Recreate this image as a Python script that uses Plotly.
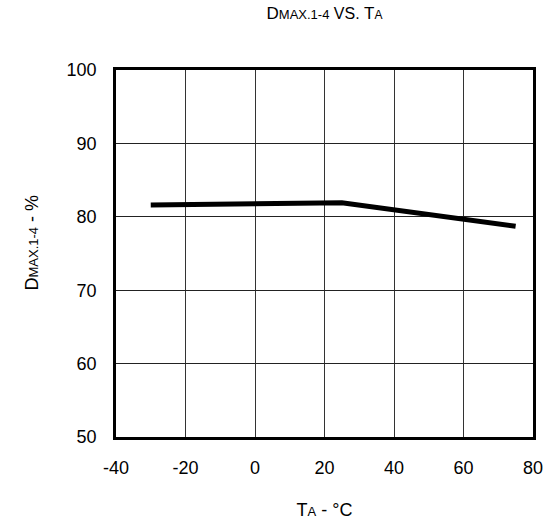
import plotly.graph_objects as go

temp_c = [-30, 25, 75]
dmax_pct = [81.6, 81.9, 78.7]
x_ticks = [-40, -20, 0, 20, 40, 60, 80]
x_tick_text = ["-40", "-20", "0", "20", "40", "60", "80"]
y_ticks = [50, 60, 70, 80, 90, 100]


def sz(t, s):
    return "<span style='font-size:%dpx'>%s</span>" % (s, t)


fig = go.Figure()
fig.add_trace(go.Scatter(x=temp_c, y=dmax_pct, mode="lines",
                         line=dict(color="black", width=5), showlegend=False))

fig.update_layout(
    width=554, height=524,
    margin=dict(l=116, r=21, t=70, b=87),
    paper_bgcolor="white", plot_bgcolor="white",
    font=dict(family="Liberation Sans, Arial, sans-serif", color="black"),
    title=dict(text="D" + sz("MAX.1-4", 13) + sz(" VS. ", 16) + "T" + sz("A", 12),
               xref="paper", x=0.5, xanchor="center", y=1 - 13 / 524, yanchor="middle",
               font=dict(size=17)),
)
fig.add_annotation(text="D" + sz("MAX.1-4", 13) + " - %", textangle=-90,
                   xref="paper", yref="paper", x=(31 - 116) / 417, y=(437 - 242.5) / 367,
                   xanchor="center", yanchor="middle", showarrow=False,
                   font=dict(size=18))
fig.update_xaxes(range=[-40, 80], tickvals=x_ticks, ticktext=x_tick_text, ticks="",
                 showgrid=True, gridcolor="#333333", gridwidth=1, zeroline=False,
                 showline=True, linecolor="black", linewidth=2.5, mirror=True,
                 automargin=False,
                 tickfont=dict(size=18), ticklabelstandoff=13,
                 title=dict(text="T" + sz("A", 13) + " - °C", font=dict(size=18), standoff=27))
fig.update_yaxes(range=[50, 100], tickvals=y_ticks, ticks="", showgrid=True,
                 gridcolor="#222222", gridwidth=1, zeroline=False,
                 showline=True, linecolor="black", linewidth=2.5, mirror=True,
                 automargin=False,
                 tickfont=dict(size=18), ticklabelstandoff=13)

fig.write_html("out.html", config={"displayModeBar": False},
               post_script="document.body.style.margin='0';")
